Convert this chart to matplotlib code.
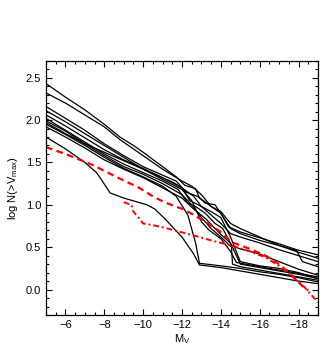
import matplotlib
matplotlib.use('Agg')
import matplotlib.pyplot as plt
from matplotlib.ticker import MultipleLocator

plt.rcParams['font.family'] = ['Liberation Sans', 'DejaVu Sans']
plt.rcParams['mathtext.fontset'] = 'custom'
plt.rcParams['mathtext.rm'] = 'Liberation Sans'
plt.rcParams['mathtext.it'] = 'Liberation Sans'

# Cumulative luminosity functions of the simulated satellite systems (black)
halo_x = [
    [-5, -6, -7, -8, -8.8, -9.5, -10, -11, -11.7, -12.15, -12.7, -12.9, -13.2, -13.7, -14.05, -14.4, -15, -16, -17, -17.9, -19],
    [-5, -6, -7, -8, -8.8, -10, -11, -12, -12.5, -13, -13.5, -14, -14.5, -15, -16, -17, -17.9, -18.2, -19],
    [-5, -6, -7, -8, -9, -10, -11, -11.7, -12.2, -12.8, -13.5, -14, -14.5, -15, -16, -17, -18, -19],
    [-5, -6, -7, -8, -9, -10, -11, -12, -12.6, -13, -13.5, -14, -14.5, -15, -16, -17, -18, -19],
    [-5, -6, -7, -8, -9, -10, -11, -11.8, -12.3, -12.7, -13.2, -13.7, -14.1, -14.55, -15, -16, -17, -18, -19],
    [-5, -6, -7, -8, -9, -10, -11, -12, -12.5, -13, -13.5, -14, -14.55, -14.6, -15, -16, -17, -18, -19],
    [-5, -6, -7, -8, -9, -10, -11, -11.7, -12.3, -12.7, -12.9, -14, -15, -16, -17, -18, -19],
    [-5, -6, -7, -8, -9, -10, -11, -12, -12.6, -13.2, -14, -14.5, -15, -16, -17, -18, -19],
    [-5, -6, -7, -7.6, -7.9, -8.3, -9, -10.2, -10.6, -11.1, -12, -12.6, -12.9, -14, -15, -16, -17, -18, -19],
    [-5, -6, -7, -8, -9, -10, -11, -12, -12.5, -13, -13.4, -14, -14.5, -14.8, -16, -17, -18, -19],
    [-5, -6, -7, -8, -9, -10, -11, -11.5, -12, -12.4, -13, -13.5, -14, -14.5, -15, -16, -17, -18, -19],
]
halo_y = [
    [2.43, 2.27, 2.12, 1.95, 1.80, 1.70, 1.62, 1.45, 1.33, 1.23, 1.19, 1.08, 1.02, 1.00, 0.88, 0.74, 0.68, 0.61, 0.54, 0.47, 0.41],
    [2.32, 2.20, 2.06, 1.92, 1.77, 1.58, 1.42, 1.28, 1.22, 1.12, 0.98, 0.90, 0.72, 0.66, 0.58, 0.52, 0.46, 0.33, 0.27],
    [2.16, 2.02, 1.88, 1.72, 1.58, 1.45, 1.35, 1.28, 1.15, 1.10, 0.98, 0.92, 0.78, 0.72, 0.62, 0.52, 0.44, 0.37],
    [2.11, 1.98, 1.84, 1.70, 1.56, 1.42, 1.32, 1.20, 1.10, 0.98, 0.88, 0.78, 0.66, 0.62, 0.55, 0.47, 0.40, 0.33],
    [2.02, 1.88, 1.74, 1.60, 1.48, 1.38, 1.28, 1.18, 1.02, 0.98, 0.90, 0.78, 0.72, 0.52, 0.48, 0.42, 0.33, 0.24, 0.17],
    [1.99, 1.87, 1.72, 1.58, 1.45, 1.36, 1.25, 1.12, 1.00, 0.85, 0.72, 0.62, 0.50, 0.30, 0.27, 0.23, 0.19, 0.15, 0.11],
    [1.95, 1.83, 1.70, 1.56, 1.43, 1.33, 1.22, 1.10, 0.88, 0.55, 0.31, 0.28, 0.25, 0.21, 0.18, 0.14, 0.09],
    [1.92, 1.80, 1.67, 1.53, 1.42, 1.32, 1.20, 1.08, 0.95, 0.84, 0.65, 0.55, 0.30, 0.26, 0.22, 0.18, 0.13],
    [1.80, 1.66, 1.50, 1.38, 1.28, 1.14, 1.08, 1.00, 0.95, 0.84, 0.62, 0.42, 0.29, 0.26, 0.22, 0.18, 0.14, 0.10, 0.07],
    [1.97, 1.84, 1.72, 1.62, 1.52, 1.42, 1.30, 1.18, 1.05, 0.80, 0.70, 0.60, 0.45, 0.32, 0.27, 0.23, 0.19, 0.15],
    [2.06, 1.93, 1.79, 1.65, 1.53, 1.43, 1.32, 1.27, 1.20, 1.05, 0.98, 0.92, 0.85, 0.62, 0.33, 0.28, 0.25, 0.20, 0.13],
]

# observed satellites (red dashed) and second observed estimate (red dash-dot)
obs_x = [-5, -6, -7.4, -8.7, -9.8, -10.5, -11.1, -12.15, -13.2, -14, -14.55, -15.5, -16.3, -17, -17.7, -18.2, -18.5]
obs_y = [1.68, 1.60, 1.47, 1.32, 1.20, 1.10, 1.03, 0.94, 0.80, 0.68, 0.56, 0.48, 0.40, 0.30, 0.16, 0.04, -0.01]
obs2_x = [-9.0, -9.4, -9.5, -10.0, -10.5, -11.1, -12.4, -12.9, -13.5, -14.55, -15.5, -16.3, -17, -17.7, -18.3, -18.6, -19]
obs2_y = [1.03, 1.00, 0.92, 0.78, 0.76, 0.73, 0.65, 0.62, 0.58, 0.52, 0.45, 0.38, 0.28, 0.15, 0.03, -0.05, -0.15]

fig = plt.figure(figsize=(3.3, 3.57), dpi=100)
ax = fig.add_axes([0.1394, 0.1176, 0.8242, 0.7124])

for xs, ys in zip(halo_x, halo_y):
    ax.plot(xs, ys, color='black', lw=0.9)

ax.plot(obs_x, obs_y, color='red', lw=1.6, ls=(0, (3, 2)))
ax.plot(obs2_x, obs2_y, color='red', lw=1.4, ls=(0, (3, 1.5, 1, 1.5)))

ax.set_xlim(-5, -19)
ax.set_ylim(-0.3, 2.7)
ax.xaxis.set_major_locator(MultipleLocator(2))
ax.xaxis.set_minor_locator(MultipleLocator(0.5))
ax.yaxis.set_major_locator(MultipleLocator(0.5))
ax.yaxis.set_minor_locator(MultipleLocator(0.1))
ax.tick_params(which='both', direction='in', top=True, right=True, labelsize=8)
ax.tick_params(which='major', length=4, width=0.8)
ax.tick_params(which='minor', length=2, width=0.8)
ax.set_yticks([0.0, 0.5, 1.0, 1.5, 2.0, 2.5])
ax.set_yticklabels(['0.0', '0.5', '1.0', '1.5', '2.0', '2.5'])
for s in ax.spines.values():
    s.set_linewidth(0.9)

ax.set_xlabel('M$_\\mathregular{V}$', fontsize=8, labelpad=2)
ax.set_ylabel('log N(>V$_\\mathregular{max}$)', fontsize=8, labelpad=4)

fig.savefig('out.png', dpi=100)
